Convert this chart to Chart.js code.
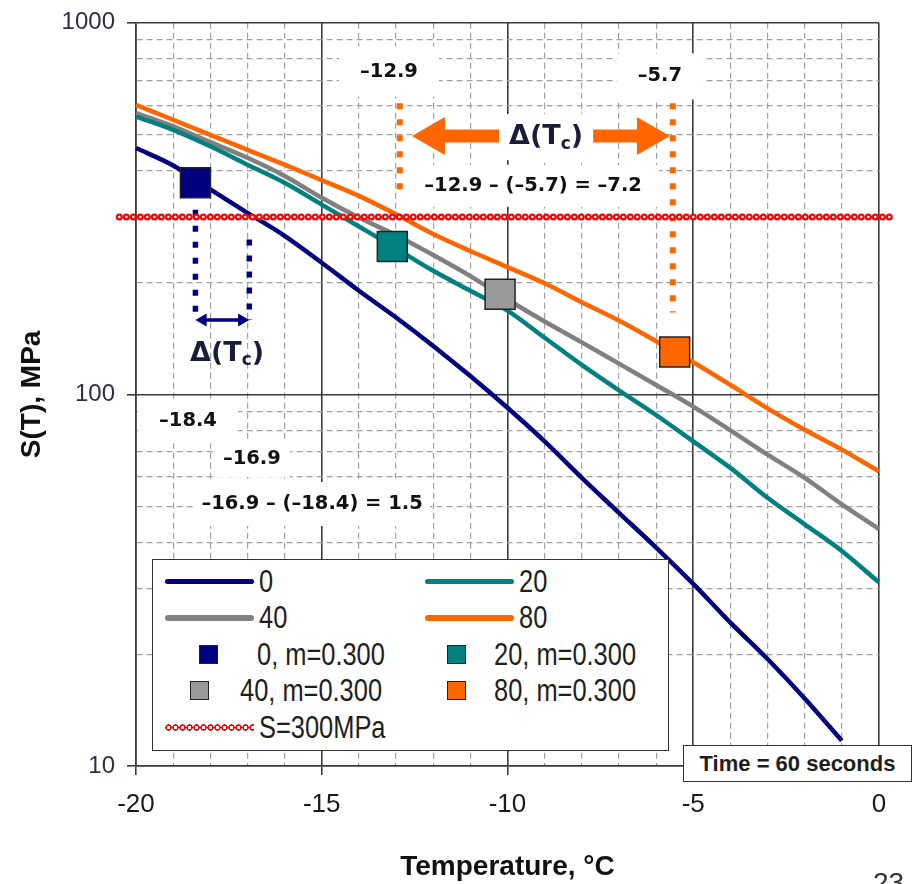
<!DOCTYPE html>
<html>
<head>
<meta charset="utf-8">
<title>S(T) vs temperature</title>
<script src="https://cdn.jsdelivr.net/npm/chart.js@4.4.1/dist/chart.umd.min.js"></script>
<style>
  html, body { margin: 0; padding: 0; background: #fff; }
  #wrap { position: relative; width: 914px; height: 884px; overflow: hidden; }
  #chart { position: absolute; left: 0; top: 0; }
  #legend {
    position: absolute; left: 152px; top: 559px; width: 517px; height: 192px;
    box-sizing: border-box; border: 1.5px solid #333; background: #fff;
    padding-top: 3px; display: grid; grid-template-columns: 260px 254px; grid-auto-rows: 36.5px;
  }
  .item { display: flex; align-items: center; }
  .slot { width: 89px; margin-left: 12px; display: flex; align-items: center; justify-content: center; }
  .sw-line { width: 100%; height: 5.5px; border-radius: 3px; }
  .sw-marker { width: 19px; height: 19px; box-sizing: border-box; border: 1.5px solid #222; }
  .sw-dots {
    width: 100%; height: 7px;
    background: radial-gradient(circle, #fff 0 1.4px, #f00 1.8px 3px, transparent 3.4px) repeat-x;
    background-size: 7px 7px;
  }
  .txt {
    margin-left: 5px; font: 31px 'Liberation Sans', Arial, sans-serif; color: #1e1e1e;
    transform: scaleX(0.82); transform-origin: left center; white-space: nowrap; line-height: 1;
  }
  #timebox {
    position: absolute; left: 683px; top: 745px; width: 229px; height: 37px;
    box-sizing: border-box; border: 1.5px solid #333; background: #fff;
    font: bold 22px 'Liberation Sans', Arial, sans-serif; color: #1e1e1e;
    display: flex; align-items: center; justify-content: center;
  }
  #page { position: absolute; left: 873px; top: 869px; font: 28px 'Liberation Sans', Arial, sans-serif; color: #333; line-height: 1; }
</style>
</head>
<body>
<div id="wrap">
  <canvas id="chart" width="914" height="884"></canvas>
  <div id="legend"></div>
  <div id="timebox">Time = 60 seconds</div>
  <div id="page">23</div>
</div>
<script>
// temperatures (°C) and S(T) in MPa for each curve
const temps = [-20, -19, -18, -17, -16, -15, -14, -13, -12, -11, -10, -9, -8, -7, -6, -5, -4, -3, -2, -1, 0, 0.4];
const s0  = [460, 413, 356, 308, 267, 226, 190, 161, 135, 112, 92, 74.7, 59.6, 48, 38.7, 30.9, 24.3, 19.4, 15.2, 11.7, null, null];
const s20 = [559, 515, 465, 415, 371, 324, 283, 247, 215, 190, 168, 142, 120, 102.5, 88, 74.7, 63.4, 52.7, 44.7, 37.9, 31.2, 29];
const s40 = [571, 526, 477, 433, 387, 338, 299, 268, 237, 208, 180, 157, 138, 121, 106, 92.7, 80, 68.8, 59.6, 50.6, 43.4, 40.8];
const s80 = [601, 548, 499, 455, 415, 377, 342, 305, 270, 243, 220, 199, 177, 158, 139, 122, 106, 91.7, 80.3, 71.0, 62.1, 59];

// m=0.300 points
const markerTemps = [-18.4, -13.1, -10.2, -5.5];
const markerS = [371, 250, 186, 130];

// S = 300 MPa threshold
const threshold = 300;
const thresholdSpan = [-20.45, 0.45];

// Tc annotation lines
const tcOrangeTemps = [-12.9, -5.55];
const tcOrangeTop = [607, 607];
const tcOrangeBottom = [353, 166];
const tcNavyTemps = [-18.4, -16.95];
const tcNavyTop = [314, 261];
const tcNavyBottom = [158.6, 158.6];
const orangeArrow = [-11.98, -6.22];
const orangeArrowS = 495.4;
const navyArrow = [-18.2, -17.15];
const navyArrowS = 158.6;

// axes
const xTicks = [-20, -19, -18, -17, -16, -15, -14, -13, -12, -11, -10, -9, -8, -7, -6, -5, -4, -3, -2, -1, 0];
const xLabels = [-20, -15, -10, -5, 0];
const yTicks = [10, 20, 30, 40, 50, 60, 70, 80, 90, 100, 200, 300, 400, 500, 600, 700, 800, 900, 1000];
const yLabels = [10, 100, 1000];

const NAVY = '#000080', TEAL = '#008080', GREY = '#808080', ORANGE = '#FF6600';
const DARK = '#3a3a3a', LIGHT = '#a0a0a0';
const SANS = "'Liberation Sans', Arial, sans-serif";

function pts(xs, ys) {
  return xs.map((t, i) => ({ x: t, y: ys[i] })).filter(p => p.y !== null);
}

function curve(label, values, color) {
  return {
    label: label, legendKind: 'line', data: pts(temps, values),
    borderColor: color, backgroundColor: color, borderWidth: 4.5,
    cubicInterpolationMode: 'monotone',
    pointRadius: 0, clip: false, order: 6
  };
}

function marker(label, i, color) {
  return {
    label: label, legendKind: 'marker', data: [{ x: markerTemps[i], y: markerS[i] }],
    showLine: false, pointStyle: 'rect', pointRadius: 21.2,
    pointBackgroundColor: color, pointBorderColor: '#222', pointBorderWidth: 1.5, order: 1
  };
}

function dotted(t, top, bottom, color, width) {
  return {
    data: [{ x: t, y: top }, { x: t, y: bottom }],
    borderColor: color, borderWidth: width, borderDash: [6, 10], borderCapStyle: 'butt',
    pointRadius: 0, order: 5
  };
}

function arrow(span, s, color, width, head) {
  return {
    data: [{ x: span[0], y: s }, { x: span[1], y: s }],
    borderColor: color, borderWidth: width, borderCapStyle: 'butt',
    pointStyle: 'triangle', pointRadius: head, pointRotation: [-90, 90],
    pointBackgroundColor: color, pointBorderColor: color, pointBorderWidth: 0, order: 5
  };
}

const numFont = "bold 19.5px 'DejaVu Sans', sans-serif";
const deltaFont = "bold 27px 'DejaVu Sans', sans-serif";
const subFont = "bold 17px 'DejaVu Sans', sans-serif";
const deltaParts = [{ text: 'Δ(T', font: deltaFont }, { text: 'c', font: subFont, dy: 7 }, { text: ')', font: deltaFont }];

// annotation texts: position in chart units, white box in px
const notes = [
  { t: -13.19, s: 739, box: [100, 50], parts: [{ text: '–12.9', font: numFont }] },
  { t: -5.9, s: 717, box: [86, 46], parts: [{ text: '–5.7', font: numFont }] },
  { t: -8.96, s: 492, box: [94, 46], parts: deltaParts, color: '#1b1b3a' },
  { t: -9.31, s: 364, box: [252, 42], parts: [{ text: '–12.9 – (–5.7) = –7.2', font: numFont }] },
  { t: -18.6, s: 84.6, box: [100, 44], parts: [{ text: '–18.4', font: numFont }] },
  { t: -16.88, s: 66.9, box: [76, 36], parts: [{ text: '–16.9', font: numFont }] },
  { t: -15.26, s: 50.7, box: [236, 44], parts: [{ text: '–16.9 – (–18.4) = 1.5', font: numFont }] },
  { t: -17.55, s: 128.5, parts: deltaParts, color: '#1b1b3a' }
];

const notesPlugin = {
  id: 'notes',
  afterDatasetsDraw(chart) {
    const ctx = chart.ctx;
    const x = chart.scales.x, y = chart.scales.y;
    ctx.save();
    ctx.textBaseline = 'middle';
    notes.forEach(n => {
      const px = x.getPixelForValue(n.t);
      const py = y.getPixelForValue(n.s);
      if (n.box) {
        ctx.fillStyle = '#fff';
        ctx.fillRect(px - n.box[0] / 2, py - n.box[1] / 2, n.box[0], n.box[1]);
      }
      let total = 0;
      n.parts.forEach(p => { ctx.font = p.font; total += ctx.measureText(p.text).width; });
      let cx = px - total / 2;
      ctx.fillStyle = n.color || '#111';
      n.parts.forEach(p => {
        ctx.font = p.font;
        ctx.fillText(p.text, cx, py + (p.dy || 0));
        cx += ctx.measureText(p.text).width;
      });
    });
    ctx.restore();
  }
};

const htmlLegend = {
  id: 'htmlLegend',
  afterUpdate(chart) {
    const box = document.getElementById('legend');
    box.innerHTML = '';
    chart.data.datasets.forEach(ds => {
      if (!ds.legendKind) return;
      const item = document.createElement('div');
      item.className = 'item';
      const slot = document.createElement('span');
      slot.className = 'slot';
      const sw = document.createElement('span');
      sw.className = 'sw-' + ds.legendKind;
      if (ds.legendKind === 'line') sw.style.background = ds.borderColor;
      if (ds.legendKind === 'marker') sw.style.background = ds.pointBackgroundColor;
      slot.appendChild(sw);
      const txt = document.createElement('span');
      txt.className = 'txt';
      txt.textContent = ds.label;
      item.append(slot, txt);
      box.appendChild(item);
    });
  }
};

const isMajorX = c => c.tick && xLabels.includes(c.tick.value);
const isMajorY = c => c.tick && yLabels.includes(c.tick.value);

new Chart(document.getElementById('chart'), {
  type: 'line',
  data: {
    datasets: [
      curve('0', s0, NAVY),
      curve('20', s20, TEAL),
      curve('40', s40, GREY),
      curve('80', s80, ORANGE),
      marker('0, m=0.300', 0, NAVY),
      marker('20, m=0.300', 1, TEAL),
      marker('40, m=0.300', 2, '#999999'),
      marker('80, m=0.300', 3, ORANGE),
      {
        label: 'S=300MPa', legendKind: 'dots',
        data: thresholdSpan.map(t => ({ x: t, y: threshold })),
        borderColor: '#ff0000', borderWidth: 7, borderDash: [0, 7], borderCapStyle: 'round',
        pointRadius: 0, clip: false, order: 4
      },
      {
        data: thresholdSpan.map(t => ({ x: t, y: threshold })),
        borderColor: '#ffffff', borderWidth: 2.6, borderDash: [0, 7], borderCapStyle: 'round',
        pointRadius: 0, clip: false, order: 3
      },
      dotted(tcOrangeTemps[0], tcOrangeTop[0], tcOrangeBottom[0], ORANGE, 6),
      dotted(tcOrangeTemps[1], tcOrangeTop[1], tcOrangeBottom[1], ORANGE, 6),
      dotted(tcNavyTemps[0], tcNavyTop[0], tcNavyBottom[0], NAVY, 5.5),
      dotted(tcNavyTemps[1], tcNavyTop[1], tcNavyBottom[1], NAVY, 5.5),
      arrow(orangeArrow, orangeArrowS, ORANGE, 13, 22),
      arrow(navyArrow, navyArrowS, NAVY, 3.5, 7.5)
    ]
  },
  options: {
    responsive: false,
    animation: false,
    events: [],
    layout: { padding: { left: 0, right: 35, top: 19, bottom: 0 } },
    plugins: { legend: { display: false }, tooltip: { enabled: false } },
    scales: {
      x: {
        type: 'linear', min: -20, max: 0,
        afterBuildTicks: s => { s.ticks = xTicks.map(v => ({ value: v })); },
        afterFit: s => { s.height = 118; s.paddingLeft = 0; s.paddingRight = 0; },
        ticks: {
          autoSkip: false, maxRotation: 0, padding: 14, color: '#1a1a1a',
          font: { family: SANS, size: 26 },
          callback: v => xLabels.includes(v) ? String(v) : ''
        },
        grid: {
          color: c => isMajorX(c) ? DARK : LIGHT,
          lineWidth: c => isMajorX(c) ? 1.6 : 1.2,
          tickColor: c => isMajorX(c) ? DARK : 'transparent',
          tickLength: 9
        },
        border: { color: DARK, width: 1.6, dash: c => (c.tick && !isMajorX(c)) ? [6, 4] : [] },
        title: {
          display: true, text: 'Temperature, °C', color: '#111',
          font: { family: SANS, size: 28, weight: 'bold' }, padding: { top: 0, bottom: 0 }
        }
      },
      y: {
        type: 'logarithmic', min: 10, max: 1000,
        afterBuildTicks: s => { s.ticks = yTicks.map(v => ({ value: v })); },
        afterFit: s => { s.width = 136; s.paddingTop = 0; s.paddingBottom = 0; },
        ticks: {
          autoSkip: false, padding: 12, color: '#2e2e48',
          font: { family: SANS, size: 24 },
          callback: v => yLabels.includes(v) ? String(v) : ''
        },
        grid: {
          color: c => isMajorY(c) ? DARK : LIGHT,
          lineWidth: c => isMajorY(c) ? 1.6 : 1.2,
          tickColor: c => isMajorY(c) ? DARK : 'transparent',
          tickLength: 9
        },
        border: { color: DARK, width: 1.6, dash: c => (c.tick && !isMajorY(c)) ? [6, 4] : [] },
        title: {
          display: true, text: 'S(T), MPa', color: '#111',
          font: { family: SANS, size: 28, weight: 'bold' }, padding: { top: 15, bottom: 0 }
        }
      }
    }
  },
  plugins: [notesPlugin, htmlLegend]
});
</script>
</body>
</html>
